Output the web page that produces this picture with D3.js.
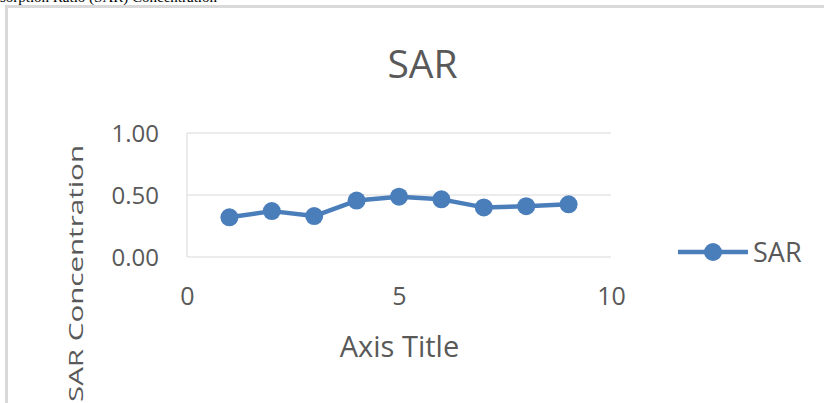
<!DOCTYPE html>
<html>
<head>
<meta charset="utf-8">
<script src="https://cdn.jsdelivr.net/npm/d3@7"></script>
<style>
  html, body { margin: 0; padding: 0; background: #fff; overflow: hidden; }
  svg { display: block; }
</style>
</head>
<body>
<svg id="chart" width="824" height="403"></svg>
<script>
// ---- data ----
const seriesName = "SAR";
const xValues = [1, 2, 3, 4, 5, 6, 7, 8, 9];
const sarValues = [0.32, 0.37, 0.33, 0.455, 0.486, 0.465, 0.40, 0.41, 0.425];
const xTicks = [0, 5, 10];
const yTicks = [0, 0.5, 1];
const chartTitle = "SAR";
const xAxisTitle = "Axis Title";
const yAxisTitle = "SAR Concentration";
const clippedCaption = "Sodium Adsorption Ratio (SAR) Concentration";

// ---- layout ----
const svg = d3.select("#chart");
const textColor = "#595959";
const gridColor = "#d9d9d9";
const blue = "#4a7ebb";
const font = "'Open Sans', sans-serif";

const x = d3.scaleLinear().domain([0, 10]).range([187, 611]);
const y = d3.scaleLinear().domain([0, 1]).range([257, 133]);

// clipped caption text above the frame
svg.append("text")
  .attr("x", 217).attr("y", 2)
  .attr("text-anchor", "end")
  .attr("font-family", "'Liberation Serif', serif")
  .attr("font-size", 15)
  .attr("fill", "#000")
  .text(clippedCaption);

// chart frame
svg.append("rect")
  .attr("x", 6.5).attr("y", 6.5)
  .attr("width", 900).attr("height", 500)
  .attr("fill", "none")
  .attr("stroke", gridColor)
  .attr("stroke-width", 3);

// title
svg.append("text")
  .attr("x", 422.5).attr("y", 78)
  .attr("text-anchor", "middle")
  .attr("font-family", font)
  .attr("font-size", 39)
  .attr("fill", textColor)
  .text(chartTitle);

// gridlines
svg.append("g")
  .selectAll("line")
  .data(yTicks)
  .join("line")
  .attr("x1", x(0)).attr("x2", x(10))
  .attr("y1", d => y(d)).attr("y2", d => y(d))
  .attr("stroke", gridColor)
  .attr("stroke-width", 1);

// left axis line
svg.append("line")
  .attr("x1", x(0)).attr("x2", x(0))
  .attr("y1", y(0)).attr("y2", y(1))
  .attr("stroke", gridColor)
  .attr("stroke-width", 1);

// y axis labels
const yAxis = d3.axisLeft(y).tickValues(yTicks).tickFormat(d3.format(".2f")).tickSize(0).tickPadding(0);
const gy = svg.append("g").attr("transform", "translate(159,0)").call(yAxis);
gy.select(".domain").remove();
gy.selectAll("text")
  .attr("font-family", font)
  .attr("font-size", 24)
  .attr("fill", textColor)
  .attr("dy", "0.36em");

// x axis labels
const xAxis = d3.axisBottom(x).tickValues(xTicks).tickFormat(d3.format("d")).tickSize(0).tickPadding(0);
const gx = svg.append("g").attr("transform", "translate(0,305)").call(xAxis);
gx.select(".domain").remove();
gx.selectAll("text")
  .attr("font-family", font)
  .attr("font-size", 25)
  .attr("fill", textColor)
  .attr("dy", 0);

// axis titles
svg.append("text")
  .attr("x", 399.5).attr("y", 357)
  .attr("text-anchor", "middle")
  .attr("font-family", font)
  .attr("font-size", 29)
  .attr("fill", textColor)
  .text(xAxisTitle);

svg.append("text")
  .attr("transform", "translate(83,273.5) rotate(-90)")
  .attr("text-anchor", "middle")
  .attr("font-family", font)
  .attr("font-size", 20)
  .attr("fill", textColor)
  .attr("textLength", 257)
  .attr("lengthAdjust", "spacingAndGlyphs")
  .text(yAxisTitle);

// series
const pts = xValues.map((v, i) => ({ x: v, y: sarValues[i] }));
svg.append("path")
  .datum(pts)
  .attr("fill", "none")
  .attr("stroke", blue)
  .attr("stroke-width", 4.5)
  .attr("stroke-linejoin", "round")
  .attr("d", d3.line().x(d => x(d.x)).y(d => y(d.y)));

svg.append("g")
  .selectAll("circle")
  .data(pts)
  .join("circle")
  .attr("cx", d => x(d.x))
  .attr("cy", d => y(d.y))
  .attr("r", 9)
  .attr("fill", blue);

// legend
const lg = svg.append("g");
lg.append("line")
  .attr("x1", 678).attr("x2", 748)
  .attr("y1", 252).attr("y2", 252)
  .attr("stroke", blue).attr("stroke-width", 4.5);
lg.append("circle")
  .attr("cx", 713).attr("cy", 252).attr("r", 9)
  .attr("fill", blue);
lg.append("text")
  .attr("x", 753).attr("y", 262)
  .attr("font-family", font)
  .attr("font-size", 27)
  .attr("fill", textColor)
  .text(seriesName);
</script>
</body>
</html>
